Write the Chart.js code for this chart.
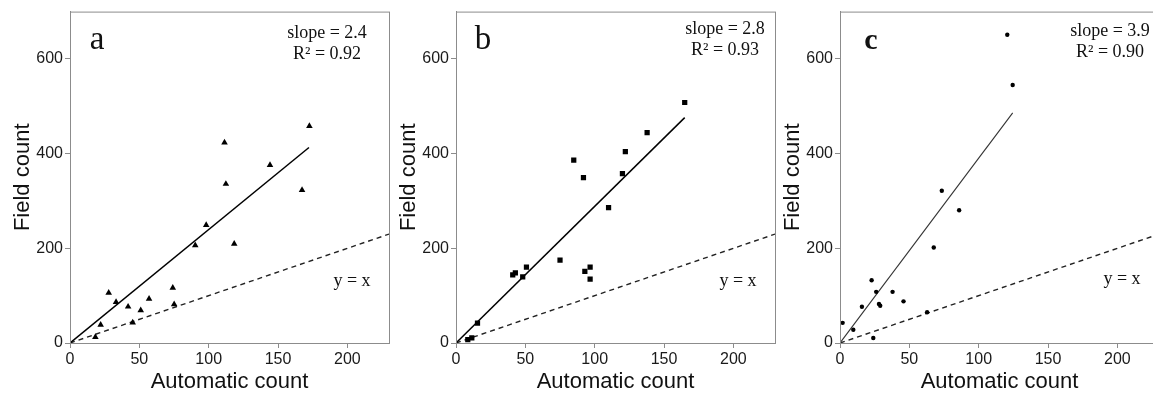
<!DOCTYPE html>
<html>
<head>
<meta charset="utf-8">
<title>Field count vs automatic count</title>
<style>
  body { margin: 0; background: #fff; overflow: hidden; width: 1153px; height: 395px; position: relative; }
  .panel { position: absolute; top: 0; width: 393px; height: 395px; }
</style>
</head>
<body>
<div class="panel" style="left:0px"><canvas id="chartA" width="393" height="395"></canvas></div>
<div class="panel" style="left:386px"><canvas id="chartB" width="393" height="395"></canvas></div>
<div class="panel" style="left:770px"><canvas id="chartC" width="393" height="395"></canvas></div>
<script src="https://cdn.jsdelivr.net/npm/chart.js@4.4.0/dist/chart.umd.min.js"></script>
<script>
// panel a (triangles)
var autoA  = [18.3, 22.1, 27.9, 33.2, 41.9, 45.2, 51.0, 57.0, 74.1, 75.1, 90.3, 98.2, 111.4, 112.4, 118.4, 144.2, 167.3, 172.6];
var fieldA = [12.6, 38.4, 106, 86.5, 76.7, 43.3, 69, 93.5, 116.5, 81.6, 206.5, 249, 423.5, 336, 209.3, 376, 323, 458];
// panel b (squares)
var autoB  = [8.5, 11.4, 15.5, 40.9, 42.8, 48.1, 50.8, 75.0, 84.9, 91.9, 92.9, 96.7, 96.7, 110.0, 120.0, 122.1, 137.8, 164.9];
var fieldB = [7, 11, 42, 144, 148, 139.5, 160.5, 175, 386.5, 349.5, 151.4, 160.5, 134.7, 286, 358, 404, 444.4, 508];
// panel c (dots)
var autoC  = [1.9, 9.6, 15.8, 22.8, 24.0, 26.1, 28.1, 29.0, 37.9, 45.8, 62.8, 67.6, 73.4, 85.9, 120.6, 124.5];
var fieldC = [42.6, 27.9, 76.7, 132.6, 10.5, 108, 82.3, 78.8, 108, 88, 65, 201.6, 321.6, 280.5, 651, 545];

// fitted lines (start and end points)
var fitAutoA = [0, 172.3], fitFieldA = [0, 413];
var fitAutoB = [0, 164.9], fitFieldB = [0, 476];
var fitAutoC = [0, 124.5], fitFieldC = [0, 486];
// y = x reference line
var identAuto = [0, 230], identField = [0, 230];

var panelLetters = ['a', 'b', 'c'];
var slopes = ['2.4', '2.8', '3.9'];
var rSquared = ['0.92', '0.93', '0.90'];

var xTickVals = [0, 50, 100, 150, 200];
var yTickVals = [0, 200, 400, 600];

function toPoints(xs, ys) {
    var out = [];
    for (var i = 0; i < xs.length; i++) out.push({x: xs[i], y: ys[i]});
    return out;
}

var boxAndText = {
    id: 'boxAndText',
    afterDraw: function(chart, args, opts) {
        var ctx = chart.ctx, a = chart.chartArea;
        ctx.save();
        ctx.strokeStyle = '#8c8c8c';
        ctx.lineWidth = 1;
        ctx.strokeRect(a.left + 0.5, a.top + 0.5, a.right - a.left, a.bottom - a.top);

        ctx.fillStyle = '#111';
        ctx.textAlign = 'center';
        ctx.textBaseline = 'alphabetic';
        ctx.font = opts.letterFont;
        ctx.fillText(opts.letter, a.left + opts.letterX, a.top + opts.letterY);

        ctx.font = '18px "Liberation Serif"';
        ctx.fillText('slope = ' + opts.slope, a.left + opts.statX, a.top + opts.statY);
        ctx.fillText('R\u00B2 = ' + opts.r2, a.left + opts.statX, a.top + opts.statY + 21);
        ctx.fillText('y = x', a.left + opts.identX, a.top + opts.identY);
        ctx.restore();
    }
};

function makeChart(id, pts, fit, marker, radius, fitWidth, fitColor, text) {
    var axisColor = '#8c8c8c';
    var tickFont = {family: '"Liberation Sans", Arial, sans-serif', size: 16};
    var titleFont = {family: '"Liberation Sans", Arial, sans-serif', size: 22};
    return new Chart(document.getElementById(id), {
        type: 'scatter',
        data: {
            datasets: [{
                data: pts,
                pointStyle: marker,
                pointRadius: radius,
                pointBackgroundColor: '#000',
                pointBorderWidth: 0,
                pointBorderColor: '#000'
            }, {
                data: fit,
                showLine: true,
                borderColor: fitColor,
                borderWidth: fitWidth,
                pointRadius: 0
            }, {
                data: toPoints(identAuto, identField),
                showLine: true,
                borderColor: '#222',
                borderWidth: 1.4,
                borderDash: [5, 4],
                pointRadius: 0
            }]
        },
        options: {
            responsive: false,
            animation: false,
            layout: {padding: {top: 9, right: 1, left: 0, bottom: 0}},
            plugins: {
                legend: {display: false},
                tooltip: {enabled: false},
                boxAndText: text
            },
            scales: {
                x: {
                    type: 'linear',
                    min: 0, max: 230,
                    afterBuildTicks: function(s) { s.ticks = xTickVals.map(function(v) { return {value: v}; }); },
                    afterFit: function(s) { s.height = 52; },
                    border: {display: true, color: axisColor, width: 1},
                    grid: {drawOnChartArea: false, drawTicks: true, tickLength: 5, color: axisColor},
                    ticks: {font: tickFont, color: '#1a1a1a', padding: 2, maxRotation: 0},
                    title: {display: true, text: 'Automatic count', font: titleFont, color: '#111', padding: {top: 0, bottom: 0}}
                },
                y: {
                    type: 'linear',
                    min: 0, max: 700,
                    afterBuildTicks: function(s) { s.ticks = yTickVals.map(function(v) { return {value: v}; }); },
                    afterFit: function(s) { s.width = 70; },
                    border: {display: true, color: axisColor, width: 1},
                    grid: {drawOnChartArea: false, drawTicks: true, tickLength: 5, color: axisColor},
                    ticks: {font: tickFont, color: '#1a1a1a', padding: 2},
                    title: {display: true, text: 'Field count', font: titleFont, color: '#111', padding: {top: 10, bottom: 0}}
                }
            }
        },
        plugins: [boxAndText]
    });
}

makeChart('chartA', toPoints(autoA, fieldA), toPoints(fitAutoA, fitFieldA), 'triangle', 3.8, 1.5, '#000', {
    letter: panelLetters[0], letterFont: '33px "Liberation Serif"', letterX: 27, letterY: 37,
    slope: slopes[0], r2: rSquared[0], statX: 257, statY: 26.5, identX: 282, identY: 274
});
makeChart('chartB', toPoints(autoB, fieldB), toPoints(fitAutoB, fitFieldB), 'rect', 3.7, 1.5, '#000', {
    letter: panelLetters[1], letterFont: '33px "Liberation Serif"', letterX: 27, letterY: 37,
    slope: slopes[1], r2: rSquared[1], statX: 269, statY: 22.5, identX: 282, identY: 274
});
makeChart('chartC', toPoints(autoC, fieldC), toPoints(fitAutoC, fitFieldC), 'circle', 2.2, 1.1, '#333', {
    letter: panelLetters[2], letterFont: 'bold 30px "Liberation Serif"', letterX: 31, letterY: 37.5,
    slope: slopes[2], r2: rSquared[2], statX: 270, statY: 24, identX: 282, identY: 272
});
</script>
</body>
</html>
